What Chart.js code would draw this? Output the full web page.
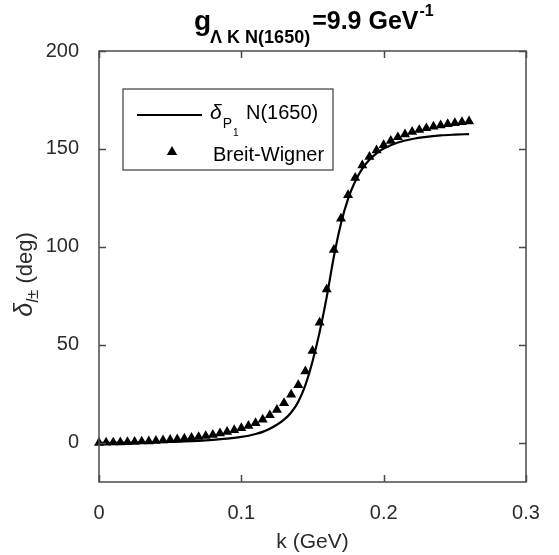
<!DOCTYPE html>
<html>
<head>
<meta charset="utf-8">
<script src="https://cdn.jsdelivr.net/npm/chart.js@4.4.0/dist/chart.umd.min.js"></script>
<style>
  html, body { margin: 0; padding: 0; background: #fff; }
  canvas { display: block; }
</style>
</head>
<body>
<canvas id="phase" width="559" height="555"></canvas>
<script>
// Breit-Wigner points, momentum k in GeV and phase shift in degrees
const bwK = [0, 0.005, 0.01, 0.015, 0.02, 0.025, 0.03, 0.035, 0.04, 0.045,
             0.05, 0.055, 0.06, 0.065, 0.07, 0.075, 0.08, 0.085, 0.09, 0.095,
             0.1, 0.105, 0.11, 0.115, 0.12, 0.125, 0.13, 0.135, 0.14, 0.145,
             0.15, 0.155, 0.16, 0.165, 0.17, 0.175, 0.18, 0.185, 0.19, 0.195,
             0.2, 0.205, 0.21, 0.215, 0.22, 0.225, 0.23, 0.235, 0.24, 0.245,
             0.25, 0.255, 0.26];
const bwDelta = [0.0, 0.1, 0.2, 0.3, 0.4, 0.5, 0.7, 0.8, 1.0, 1.3,
                 1.5, 1.8, 2.2, 2.6, 3.0, 3.5, 4.1, 4.8, 5.6, 6.5,
                 7.5, 8.7, 10.1, 11.9, 14.1, 16.8, 20.3, 24.6, 29.5, 36.5,
                 47.0, 61.4, 78.4, 98.5, 114.5, 126.5, 135.3, 141.6, 146.0, 149.3,
                 152.0, 154.2, 156.0, 157.5, 158.7, 159.7, 160.6, 161.4, 162.1, 162.7,
                 163.2, 163.7, 164.1];

// P11 N(1650) phase shift from the model
const fitK = [0, 0.02, 0.04, 0.06, 0.08, 0.09, 0.1, 0.105, 0.11, 0.115,
              0.12, 0.125, 0.13, 0.135, 0.14, 0.145, 0.15, 0.155, 0.16, 0.165,
              0.17, 0.175, 0.18, 0.185, 0.19, 0.195, 0.2, 0.21, 0.22, 0.23,
              0.24, 0.25, 0.26];
const fitDelta = [0, 0.1, 0.3, 0.7, 1.5, 2.1, 3.0, 3.6, 4.5, 5.6,
                  7.2, 9.2, 11.8, 15.5, 21.0, 29.5, 41.5, 56.5, 74.5, 95.0,
                  112.0, 124.5, 133.5, 140.0, 144.5, 147.8, 150.2, 153.3, 155.1, 156.2,
                  156.9, 157.3, 157.6];

const xTicks = [0, 0.1, 0.2, 0.3];
const yTicks = [0, 50, 100, 150, 200];

const FONT = "'Liberation Sans', Arial, sans-serif";
const axisColor = '#4a4a4a';
const textColor = '#2b2b2b';
const tickLen = 7;

const toPoints = (xs, ys) => xs.map((v, i) => ({ x: v, y: ys[i] }));

// writes a run of text pieces left to right, returns the end x
function textRun(ctx, x, pieces) {
  pieces.forEach(p => {
    ctx.font = p.f;
    ctx.fillText(p.t, x, p.y);
    x += ctx.measureText(p.t).width + (p.gap || 0);
  });
  return x;
}

// box, inward ticks, title, y label and legend
const decorations = {
  id: 'decorations',
  afterDraw(chart) {
    const { ctx, chartArea: a, scales: { x, y } } = chart;
    ctx.save();

    // axes box with ticks on all four sides
    ctx.strokeStyle = axisColor;
    ctx.lineWidth = 1.5;
    ctx.strokeRect(a.left, a.top, a.right - a.left, a.bottom - a.top);
    ctx.beginPath();
    xTicks.forEach(v => {
      const px = Math.round(x.getPixelForValue(v)) + 0.5;
      ctx.moveTo(px, a.bottom); ctx.lineTo(px, a.bottom - tickLen);
      ctx.moveTo(px, a.top); ctx.lineTo(px, a.top + tickLen);
    });
    yTicks.forEach(v => {
      const py = Math.round(y.getPixelForValue(v)) + 0.5;
      ctx.moveTo(a.left, py); ctx.lineTo(a.left + tickLen, py);
      ctx.moveTo(a.right, py); ctx.lineTo(a.right - tickLen, py);
    });
    ctx.stroke();

    // title: g_{Λ K N(1650)} = 9.9 GeV^-1
    ctx.fillStyle = '#000';
    ctx.textBaseline = 'alphabetic';
    ctx.textAlign = 'left';
    textRun(ctx, 194, [
      { t: 'g', f: `bold 28px ${FONT}`, y: 30, gap: -1 },
      { t: '\u039B K N(1650)', f: `bold 18px ${FONT}`, y: 43, gap: 2 },
      { t: '=9.9 GeV', f: `bold 25px ${FONT}`, y: 29, gap: 1 },
      { t: '-1', f: `bold 16px ${FONT}`, y: 16 }
    ]);

    // y axis label: δ_{l±} (deg)
    ctx.save();
    ctx.translate(32, (a.top + a.bottom) / 2 + 8);
    ctx.rotate(-Math.PI / 2);
    ctx.fillStyle = textColor;
    const parts = [
      { t: '\u03B4', f: `italic 25px ${FONT}`, y: 0 },
      { t: 'l', f: `italic 17px ${FONT}`, y: 6 },
      { t: '\u00B1', f: `17px ${FONT}`, y: 6 },
      { t: ' (deg)', f: `22px ${FONT}`, y: 0 }
    ];
    let total = 0;
    parts.forEach(p => { ctx.font = p.f; total += ctx.measureText(p.t).width; });
    textRun(ctx, -total / 2, parts);
    ctx.restore();

    // legend
    const L = a.left, T = a.top;
    ctx.fillStyle = '#fff';
    ctx.fillRect(L + 24, T + 38, 210, 81);
    ctx.strokeStyle = '#3a3a3a';
    ctx.lineWidth = 1.2;
    ctx.strokeRect(L + 24, T + 38, 210, 81);

    ctx.strokeStyle = '#000';
    ctx.lineWidth = 2;
    ctx.beginPath();
    ctx.moveTo(L + 38, T + 64);
    ctx.lineTo(L + 103, T + 64);
    ctx.stroke();

    ctx.fillStyle = '#000';
    textRun(ctx, L + 111, [
      { t: '\u03B4', f: `italic 21px ${FONT}`, y: T + 68, gap: 1 },
      { t: 'P', f: `14px ${FONT}`, y: T + 77, gap: 1 },
      { t: '1', f: `10px ${FONT}`, y: T + 85 }
    ]);
    ctx.font = `20px ${FONT}`;
    ctx.fillText('N(1650)', L + 147, T + 68);

    Chart.helpers.drawPoint(ctx, { pointStyle: 'triangle', radius: 6, rotation: 0, borderWidth: 0 }, L + 73, T + 101);
    ctx.font = `20px ${FONT}`;
    ctx.fillText('Breit-Wigner', L + 114, T + 110);

    ctx.restore();
  }
};

new Chart(document.getElementById('phase'), {
  type: 'scatter',
  data: {
    datasets: [
      {
        label: 'N(1650)',
        data: toPoints(fitK, fitDelta),
        showLine: true,
        borderColor: '#000',
        borderWidth: 2.2,
        pointRadius: 0,
        cubicInterpolationMode: 'monotone',
        fill: false
      },
      {
        label: 'Breit-Wigner',
        data: toPoints(bwK, bwDelta),
        showLine: false,
        pointStyle: 'triangle',
        pointRadius: 5.8,
        backgroundColor: '#000',
        borderColor: '#000',
        borderWidth: 0,
        clip: false
      }
    ]
  },
  options: {
    responsive: false,
    animation: false,
    layout: { padding: { top: 51, right: 33, left: 0, bottom: 0 } },
    plugins: {
      legend: { display: false },
      title: { display: false },
      tooltip: { enabled: false }
    },
    scales: {
      x: {
        type: 'linear',
        min: 0,
        max: 0.3,
        afterBuildTicks: s => { s.ticks = xTicks.map(v => ({ value: v })); },
        afterFit: s => { s.height = 73; },
        grid: { display: false },
        border: { display: false },
        ticks: {
          color: textColor,
          font: { family: FONT, size: 20 },
          padding: 11,
          maxRotation: 0,
          callback: v => String(+v.toFixed(1))
        },
        title: {
          display: true,
          text: 'k (GeV)',
          color: textColor,
          font: { family: FONT, size: 21 },
          padding: { top: 0, bottom: 0 }
        }
      },
      y: {
        type: 'linear',
        min: -20,
        max: 200,
        afterBuildTicks: s => { s.ticks = yTicks.map(v => ({ value: v })); },
        afterFit: s => { s.width = 99; },
        grid: { display: false },
        border: { display: false },
        ticks: {
          color: textColor,
          font: { family: FONT, size: 20 },
          padding: 12
        }
      }
    }
  },
  plugins: [decorations]
});
</script>
</body>
</html>
